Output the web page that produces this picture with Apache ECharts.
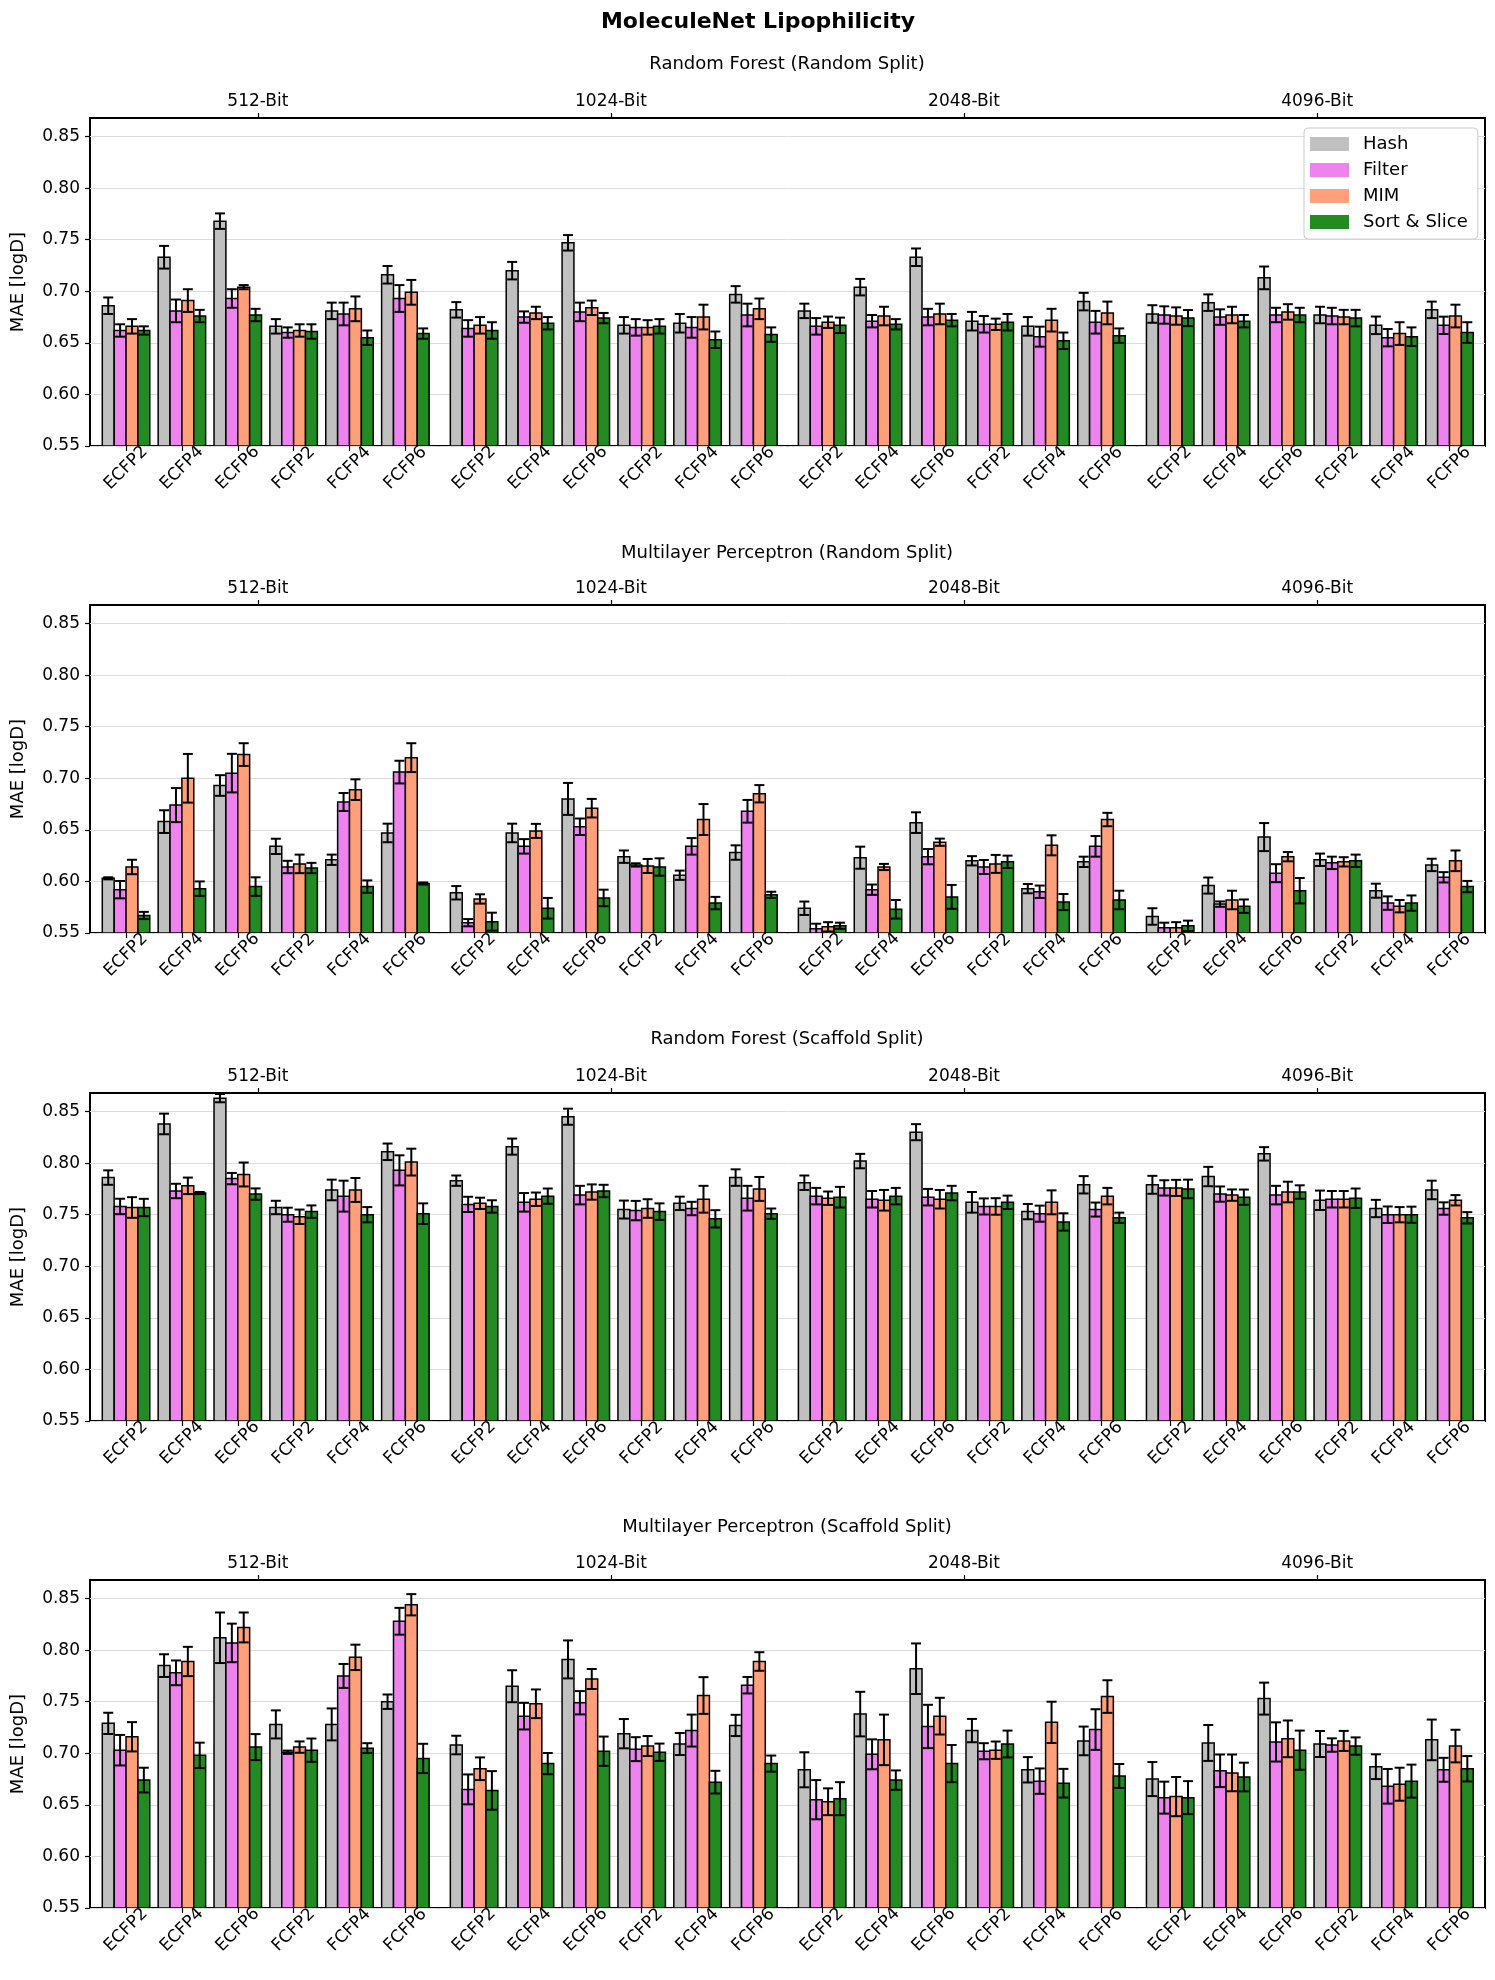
<!DOCTYPE html>
<html><head><meta charset="utf-8">
<title>MoleculeNet Lipophilicity</title>
<script src="https://cdn.jsdelivr.net/npm/echarts@6/dist/echarts.min.js"></script>
<style>
  body { margin:0; background:#fff; }
  #main { width:1495px; height:1980px; }
</style>
</head>
<body>
<div id="main"></div>
<script type="text/javascript">
var fingerprints = ['ECFP2','ECFP4','ECFP6','FCFP2','FCFP4','FCFP6'];
var bits = ['512-Bit','1024-Bit','2048-Bit','4096-Bit'];
var methods = ['Hash','Filter','MIM','Sort & Slice'];
var colors = ['#c0c0c0','#ee82ee','#ffa07a','#228b22'];
var panelTitles = ['Random Forest (Random Split)','Multilayer Perceptron (Random Split)',
                   'Random Forest (Scaffold Split)','Multilayer Perceptron (Scaffold Split)'];
var yTicks = [0.55,0.60,0.65,0.70,0.75,0.80,0.85];
var topTickPos = [2.36, 8.68, 15.0, 21.32];

// Random Forest (Random Split)
var rfRandHash      = [0.686,0.733,0.768,0.666,0.681,0.716, 0.682,0.720,0.747,0.667,0.669,0.697, 0.681,0.704,0.733,0.671,0.666,0.690, 0.678,0.689,0.713,0.677,0.667,0.682];
var rfRandHashErr   = [0.008,0.011,0.0075,0.007,0.008,0.0085, 0.0075,0.0085,0.0075,0.008,0.009,0.008, 0.007,0.008,0.0085,0.009,0.009,0.0085, 0.0085,0.008,0.011,0.008,0.0085,0.008];
var rfRandFilter    = [0.662,0.681,0.693,0.660,0.678,0.693, 0.664,0.675,0.680,0.665,0.665,0.677, 0.666,0.671,0.675,0.668,0.656,0.670, 0.677,0.675,0.677,0.676,0.655,0.667];
var rfRandFilterErr = [0.006,0.011,0.009,0.005,0.011,0.013, 0.008,0.0055,0.009,0.008,0.010,0.011, 0.008,0.006,0.008,0.008,0.0097,0.011, 0.0084,0.0075,0.007,0.008,0.0084,0.0084];
var rfRandMim       = [0.666,0.691,0.704,0.662,0.683,0.699, 0.667,0.679,0.684,0.665,0.675,0.683, 0.670,0.676,0.678,0.668,0.672,0.679, 0.676,0.677,0.680,0.675,0.659,0.676];
var rfRandMimErr    = [0.007,0.011,0.002,0.006,0.012,0.012, 0.008,0.006,0.007,0.007,0.012,0.010, 0.0055,0.009,0.010,0.0055,0.011,0.011, 0.0084,0.008,0.0075,0.007,0.011,0.011];
var rfRandSort      = [0.662,0.676,0.677,0.661,0.655,0.659, 0.662,0.669,0.674,0.666,0.653,0.658, 0.667,0.668,0.672,0.670,0.652,0.657, 0.674,0.671,0.677,0.674,0.656,0.660];
var rfRandSortErr   = [0.004,0.006,0.006,0.007,0.007,0.005, 0.008,0.006,0.005,0.007,0.008,0.007, 0.0075,0.005,0.006,0.008,0.008,0.007, 0.0078,0.006,0.007,0.008,0.009,0.010];

// Multilayer Perceptron (Random Split)
var mlpRandHash      = [0.603,0.658,0.693,0.634,0.621,0.647, 0.589,0.647,0.680,0.624,0.606,0.628, 0.574,0.623,0.657,0.620,0.593,0.619, 0.566,0.596,0.643,0.621,0.591,0.616];
var mlpRandHashErr   = [0.001,0.011,0.010,0.0074,0.005,0.009, 0.0065,0.009,0.0155,0.006,0.0045,0.007, 0.0065,0.0107,0.010,0.0045,0.0045,0.005, 0.008,0.0078,0.0136,0.006,0.0068,0.006];
var mlpRandFilter    = [0.592,0.674,0.705,0.614,0.677,0.706, 0.560,0.634,0.653,0.616,0.634,0.668, 0.554,0.592,0.624,0.614,0.590,0.634, 0.555,0.578,0.608,0.618,0.579,0.604];
var mlpRandFilterErr = [0.0084,0.0165,0.0187,0.006,0.0087,0.011, 0.0035,0.007,0.008,0.0016,0.008,0.011, 0.005,0.005,0.0074,0.0068,0.006,0.010, 0.005,0.0026,0.0087,0.006,0.0065,0.005];
var mlpRandMim       = [0.614,0.700,0.723,0.617,0.689,0.720, 0.583,0.649,0.671,0.615,0.660,0.685, 0.556,0.614,0.638,0.617,0.635,0.660, 0.555,0.582,0.624,0.619,0.576,0.620];
var mlpRandMimErr    = [0.007,0.0236,0.011,0.009,0.010,0.014, 0.0045,0.0068,0.009,0.0068,0.015,0.0084, 0.0045,0.003,0.0035,0.0087,0.0097,0.0065, 0.0055,0.009,0.0045,0.0045,0.006,0.010];
var mlpRandSort      = [0.567,0.593,0.595,0.613,0.595,0.598, 0.561,0.574,0.584,0.614,0.579,0.587, 0.557,0.573,0.585,0.619,0.580,0.582, 0.557,0.576,0.591,0.620,0.579,0.595];
var mlpRandSortErr   = [0.0035,0.007,0.009,0.005,0.006,0.001, 0.0087,0.010,0.008,0.0084,0.006,0.003, 0.003,0.009,0.0116,0.006,0.0078,0.009, 0.005,0.0065,0.0123,0.006,0.0074,0.0055];

// Random Forest (Scaffold Split)
var rfScafHash      = [0.786,0.838,0.863,0.757,0.774,0.811, 0.783,0.816,0.845,0.755,0.761,0.786, 0.781,0.802,0.830,0.762,0.753,0.779, 0.779,0.787,0.809,0.764,0.756,0.774];
var rfScafHashErr   = [0.007,0.010,0.004,0.0065,0.010,0.008, 0.005,0.0078,0.0078,0.0087,0.0065,0.008, 0.007,0.007,0.0078,0.010,0.0074,0.0084, 0.0087,0.0094,0.0065,0.0094,0.0084,0.009];
var rfScafFilter    = [0.758,0.773,0.785,0.750,0.768,0.793, 0.760,0.762,0.769,0.754,0.756,0.766, 0.768,0.765,0.767,0.758,0.751,0.755, 0.776,0.770,0.769,0.765,0.750,0.756];
var rfScafFilterErr = [0.0075,0.007,0.0055,0.0068,0.015,0.0146, 0.0074,0.009,0.009,0.0094,0.0065,0.012, 0.008,0.008,0.008,0.0078,0.0078,0.0068, 0.0074,0.0074,0.009,0.008,0.008,0.006];
var rfScafMim       = [0.757,0.778,0.789,0.748,0.774,0.801, 0.761,0.765,0.772,0.756,0.765,0.775, 0.766,0.764,0.765,0.758,0.762,0.768, 0.776,0.769,0.772,0.765,0.750,0.764];
var rfScafMimErr    = [0.010,0.008,0.0116,0.007,0.0116,0.013, 0.0055,0.0065,0.0074,0.009,0.013,0.0116, 0.0065,0.010,0.009,0.008,0.0116,0.008, 0.0078,0.0055,0.010,0.008,0.0074,0.005];
var rfScafSort      = [0.757,0.771,0.770,0.753,0.750,0.751, 0.758,0.768,0.773,0.753,0.746,0.751, 0.767,0.768,0.771,0.762,0.743,0.747, 0.775,0.767,0.772,0.766,0.750,0.747];
var rfScafSortErr   = [0.0084,0.001,0.0055,0.006,0.0074,0.010, 0.006,0.0074,0.006,0.008,0.0084,0.005, 0.010,0.008,0.007,0.0065,0.0084,0.005, 0.009,0.0074,0.0065,0.0094,0.0078,0.0055];

// Multilayer Perceptron (Scaffold Split)
var mlpScafHash      = [0.729,0.785,0.812,0.728,0.728,0.750, 0.708,0.765,0.791,0.719,0.709,0.727, 0.684,0.738,0.782,0.722,0.684,0.712, 0.675,0.710,0.753,0.709,0.687,0.713];
var mlpScafHashErr   = [0.0103,0.011,0.0245,0.0136,0.0155,0.007, 0.009,0.0155,0.0184,0.0142,0.0107,0.0103, 0.017,0.0216,0.0245,0.0113,0.0123,0.0139, 0.0165,0.0174,0.0155,0.0126,0.012,0.0197];
var mlpScafFilter    = [0.703,0.778,0.807,0.701,0.775,0.828, 0.665,0.736,0.749,0.704,0.722,0.766, 0.655,0.699,0.726,0.702,0.673,0.723, 0.657,0.683,0.711,0.708,0.668,0.684];
var mlpScafFilterErr = [0.0148,0.012,0.0187,0.0016,0.0116,0.013, 0.0145,0.0129,0.0113,0.0116,0.0155,0.008, 0.019,0.0145,0.021,0.0078,0.0123,0.0197, 0.0155,0.0158,0.019,0.0065,0.0168,0.0116];
var mlpScafMim       = [0.716,0.789,0.822,0.706,0.793,0.844, 0.685,0.748,0.772,0.707,0.756,0.789, 0.653,0.713,0.736,0.703,0.730,0.755, 0.658,0.681,0.714,0.712,0.670,0.707];
var mlpScafMimErr    = [0.0142,0.0142,0.0145,0.0055,0.0123,0.0103, 0.011,0.0139,0.0097,0.0097,0.0178,0.009, 0.013,0.0245,0.0178,0.0084,0.020,0.0158, 0.019,0.0178,0.0178,0.0097,0.016,0.0158];
var mlpScafSort      = [0.674,0.698,0.706,0.703,0.705,0.695, 0.664,0.690,0.702,0.701,0.672,0.690, 0.656,0.674,0.690,0.709,0.671,0.678, 0.657,0.677,0.703,0.707,0.673,0.685];
var mlpScafSortErr   = [0.012,0.0123,0.0126,0.0113,0.0048,0.0142, 0.0187,0.0103,0.0142,0.0084,0.011,0.0078, 0.016,0.0094,0.018,0.013,0.0139,0.0116, 0.016,0.0139,0.019,0.0084,0.016,0.0123];

var panels = [
  [[rfRandHash,rfRandHashErr],[rfRandFilter,rfRandFilterErr],[rfRandMim,rfRandMimErr],[rfRandSort,rfRandSortErr]],
  [[mlpRandHash,mlpRandHashErr],[mlpRandFilter,mlpRandFilterErr],[mlpRandMim,mlpRandMimErr],[mlpRandSort,mlpRandSortErr]],
  [[rfScafHash,rfScafHashErr],[rfScafFilter,rfScafFilterErr],[rfScafMim,rfScafMimErr],[rfScafSort,rfScafSortErr]],
  [[mlpScafHash,mlpScafHashErr],[mlpScafFilter,mlpScafFilterErr],[mlpScafMim,mlpScafMimErr],[mlpScafSort,mlpScafSortErr]]
];

var FONT = 'DejaVu Sans';
var Y_MIN = 0.55, Y_MAX = 0.868;
var GAP = 0.23, BAR_W = 0.2125, X_MIN = -0.645, X_MAX = 24.325;
var gridTops = [118, 605, 1093, 1580], GRID_H = 328;
var subTops = [55, 544, 1030, 1518];

// group centres on the x value axis, blocks separated by a small gap
var groupPos = [], groupLabels = [];
for (var b = 0; b < bits.length; b++) {
  for (var f = 0; f < fingerprints.length; f++) {
    groupPos.push(b * fingerprints.length + f + b * GAP);
    groupLabels.push(fingerprints[f]);
  }
}
function nearestIdx(arr, v) {
  var best = 0;
  for (var i = 1; i < arr.length; i++) if (Math.abs(arr[i] - v) < Math.abs(arr[best] - v)) best = i;
  return best;
}

function renderBar(params, api) {
  var x = api.value(0), v = api.value(1), e = api.value(2);
  var tl = api.coord([x - BAR_W / 2, v]);
  var br = api.coord([x + BAR_W / 2, Y_MIN]);
  var top = api.coord([x, v + e]);
  var bot = api.coord([x, v - e]);
  var cap = 5;
  return {
    type: 'group',
    children: [
      { type: 'rect', shape: { x: tl[0], y: tl[1], width: br[0] - tl[0], height: br[1] - tl[1] },
        style: { fill: api.visual('color'), stroke: '#000', lineWidth: 1.5 } },
      { type: 'line', shape: { x1: top[0], y1: top[1], x2: bot[0], y2: bot[1] },
        style: { stroke: '#000', lineWidth: 2 } },
      { type: 'line', shape: { x1: top[0] - cap, y1: top[1], x2: top[0] + cap, y2: top[1] },
        style: { stroke: '#000', lineWidth: 2 } },
      { type: 'line', shape: { x1: bot[0] - cap, y1: bot[1], x2: bot[0] + cap, y2: bot[1] },
        style: { stroke: '#000', lineWidth: 2 } }
    ]
  };
}

var grids = [], xAxes = [], yAxes = [], series = [];
var titles = [{
  text: 'MoleculeNet Lipophilicity', left: 758, top: 11, textAlign: 'center', padding: 0,
  textStyle: { fontFamily: FONT, fontSize: 22, fontWeight: 'bold', color: '#000' }
}];

panels.forEach(function (panel, p) {
  grids.push({ left: 90, right: 10, top: gridTops[p], height: GRID_H, show: true,
               borderColor: '#000', borderWidth: 2, backgroundColor: 'transparent' });
  titles.push({ text: panelTitles[p], left: 787, top: subTops[p], textAlign: 'center', padding: 0,
                textStyle: { fontFamily: FONT, fontSize: 18, fontWeight: 'normal', color: '#000' } });
  xAxes.push({
    type: 'value', gridIndex: p, position: 'bottom', min: X_MIN, max: X_MAX,
    axisLine: { show: false, onZero: false }, splitLine: { show: false },
    axisTick: { show: true, customValues: groupPos, length: 5, lineStyle: { color: '#000', width: 1.2 } },
    axisLabel: {
      customValues: groupPos, rotate: 45, align: 'center', verticalAlign: 'middle', margin: 22,
      fontFamily: FONT, fontSize: 17, color: '#000',
      formatter: function (v) { return groupLabels[nearestIdx(groupPos, v)]; }
    }
  });
  xAxes.push({
    type: 'value', gridIndex: p, position: 'top', min: X_MIN, max: X_MAX,
    axisLine: { show: false, onZero: false }, splitLine: { show: false },
    axisTick: { show: true, customValues: topTickPos, length: 5, lineStyle: { color: '#000', width: 1.2 } },
    axisLabel: {
      customValues: topTickPos, margin: 8, fontFamily: FONT, fontSize: 17, color: '#000',
      formatter: function (v) { return bits[nearestIdx(topTickPos, v)]; }
    }
  });
  yAxes.push({
    type: 'value', gridIndex: p, position: 'left', min: Y_MIN, max: Y_MAX, interval: 0.05,
    name: 'MAE [logD]', nameLocation: 'middle', nameGap: 63,
    nameTextStyle: { fontFamily: FONT, fontSize: 18, color: '#000' },
    axisLine: { show: false, onZero: false },
    axisTick: { show: true, customValues: yTicks, length: 5, lineStyle: { color: '#000', width: 1.2 } },
    axisLabel: { customValues: yTicks, margin: 10, fontFamily: FONT, fontSize: 17, color: '#000',
                 formatter: function (v) { return v.toFixed(2); } },
    splitLine: { show: true, lineStyle: { color: '#dcdcdc', width: 1 } }
  });
  panel.forEach(function (pair, m) {
    var vals = pair[0], errs = pair[1];
    series.push({
      type: 'custom', name: methods[m], xAxisIndex: p * 2, yAxisIndex: p,
      itemStyle: { color: colors[m] }, clip: true,
      renderItem: renderBar,
      encode: { x: 0, y: 1 },
      data: vals.map(function (v, i) { return [groupPos[i] + (m - 1.5) * BAR_W, v, errs[i]]; })
    });
  });
});

var chart = echarts.init(document.getElementById('main'));
chart.setOption({
  animation: false,
  backgroundColor: '#fff',
  textStyle: { fontFamily: FONT },
  title: titles,
  legend: {
    data: methods, orient: 'vertical', left: 1304, top: 128,
    icon: 'rect', itemWidth: 39, itemHeight: 14, itemGap: 8,
    backgroundColor: '#fff', borderColor: '#cccccc', borderWidth: 1, borderRadius: 4,
    padding: [7, 10, 8, 6],
    textStyle: { fontFamily: FONT, fontSize: 18, color: '#000', padding: [0, 0, 0, 9] }
  },
  grid: grids,
  xAxis: xAxes,
  yAxis: yAxes,
  series: series
});
</script>
</body></html>
